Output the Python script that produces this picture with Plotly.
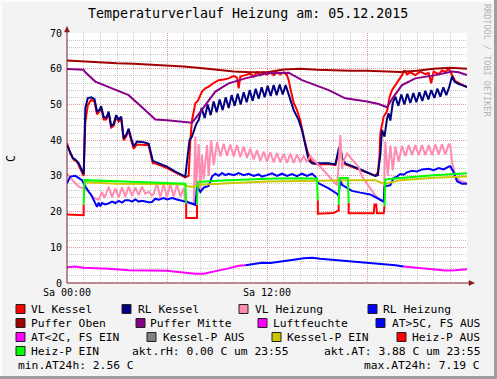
import plotly.graph_objects as go

# ------------------------------------------------------------------ data
title_text = "Temperaturverlauf Heizung am: 05.12.2015"
y_label = "C"
x_tick_vals = [0, 6, 12, 18]
x_tick_text = ["Sa 00:00", "", "Sa 12:00", ""]
y_tick_vals = [0, 10, 20, 30, 40, 50, 60, 70]

# hours since 00:00 and temperatures in C
vl_kessel_t = [0.0, 0.2, 0.4, 0.6, 0.8, 1.0, 1.1, 1.25, 1.45, 1.65, 1.8, 1.95, 2.05, 2.2, 2.35, 2.5, 2.65, 2.8,
               2.95, 3.1, 3.25, 3.4, 3.55, 3.7, 3.85, 4.0, 4.2, 4.6, 4.9, 5.05, 5.15, 5.3, 6.0, 6.5, 7.1, 7.3,
               7.4, 7.5, 7.6, 7.7, 7.85, 8.0, 8.1, 8.3, 8.5, 8.8, 9.1, 9.4, 9.7, 10.0, 10.2, 10.3, 10.4, 10.7,
               11.0, 11.2, 11.4, 11.6, 11.8, 12.0, 12.2, 12.4, 12.6, 12.8, 13.0, 13.2, 13.3, 13.45, 13.6, 13.8,
               14.0, 14.2, 14.4, 14.6, 14.8, 15.2, 15.7, 16.1, 16.3, 16.4, 16.5, 16.7, 17.1, 17.6, 18.0, 18.5,
               18.65, 18.75, 18.8, 19.0, 19.2, 19.35, 19.5, 19.7, 19.9, 20.1, 20.25, 20.4, 20.6, 20.9, 21.2,
               21.5, 21.7, 21.85, 22.0, 22.3, 22.5, 22.7, 22.9, 23.1, 23.3, 23.5, 23.7, 24.0]
vl_kessel = [39.2, 36.2, 34.5, 34.0, 32.0, 30.0, 45.0, 49.8, 51.3, 50.8, 47.2, 48.0, 49.0, 45.8, 45.8, 47.4, 43.5,
             44.0, 46.4, 45.2, 46.0, 40.0, 41.0, 42.6, 40.0, 37.6, 38.8, 38.8, 38.6, 35.5, 33.5, 33.5, 32.2, 31.0,
             29.6, 30.0, 40.0, 45.5, 47.5, 50.3, 51.0, 52.6, 53.6, 54.5, 55.0, 56.0, 56.8, 57.0, 57.3, 58.0, 57.5,
             54.5, 57.8, 58.2, 58.6, 57.8, 59.0, 58.2, 59.0, 58.3, 59.0, 58.2, 59.0, 58.4, 59.0, 58.2, 56.8, 53.5,
             50.5, 48.4, 45.5, 41.0, 37.2, 34.6, 33.4, 33.2, 33.3, 33.0, 37.0, 38.2, 34.8, 33.2, 32.5, 31.6, 31.0,
             30.0, 31.0, 35.4, 41.9, 46.6, 48.0, 52.0, 54.0, 55.4, 56.5, 58.2, 59.6, 58.4, 59.0, 58.2, 59.2, 58.5,
             58.8, 55.9, 59.2, 58.5, 59.5, 59.1, 60.0, 58.4, 56.5, 56.0, 55.5, 54.8]

rl_kessel_t = [0.0, 0.2, 0.35, 0.5, 0.7, 0.9, 1.0, 1.1, 1.25, 1.45, 1.65, 1.8, 1.95, 2.05, 2.2, 2.35, 2.5, 2.65,
               2.8, 2.95, 3.1, 3.25, 3.4, 3.55, 3.7, 3.85, 4.0, 4.2, 4.6, 4.9, 5.05, 5.15, 5.3, 6.0, 6.5, 7.1,
               7.25, 7.35, 7.5, 7.6, 7.75,
               7.90, 8.08, 8.26, 8.44, 8.62, 8.80, 8.98, 9.16, 9.34, 9.52, 9.70, 9.88, 10.06, 10.24, 10.42,
               10.60, 10.78, 10.96, 11.14, 11.32, 11.50, 11.68, 11.86, 12.04, 12.22, 12.40, 12.58, 12.76,
               12.94, 13.12, 13.30,
               13.45, 13.6, 13.75, 13.9, 14.1, 14.3, 14.5, 14.7, 15.2, 15.7, 16.1, 16.3, 16.4, 16.5, 16.7,
               17.1, 17.6, 18.0, 18.5, 18.65, 18.8, 18.9, 19.05, 19.2, 19.3, 19.4, 19.55,
               19.70, 19.88, 20.06, 20.24, 20.42, 20.60, 20.78, 20.96, 21.14, 21.32, 21.50, 21.68, 21.86,
               22.04, 22.22, 22.40, 22.58, 22.76, 22.94, 23.1, 23.25, 23.45, 23.7, 24.0]
rl_kessel = [38.6, 36.5, 35.0, 34.6, 33.5, 31.5, 30.5, 49.0, 51.8, 52.0, 51.5, 48.0, 48.5, 49.5, 46.5, 46.2,
             48.0, 44.0, 44.5, 47.0, 45.8, 46.6, 40.5, 41.5, 43.2, 40.5, 38.2, 39.6, 39.4, 39.0, 36.0, 34.2,
             33.9, 32.6, 31.2, 29.8, 36.0, 40.0, 41.0, 42.4, 44.5,
             45.6, 49.0, 46.2, 50.0, 47.0, 50.8, 47.8, 51.4, 48.4, 52.0, 49.0, 52.6, 49.6, 53.0, 50.0, 53.4,
             50.6, 54.0, 51.0, 54.4, 51.6, 54.8, 52.0, 55.2, 52.4, 55.4, 52.6, 55.6, 52.8, 55.4, 52.8,
             50.5, 48.4, 47.0, 45.6, 42.8, 38.6, 34.4, 33.5, 33.4, 33.5, 33.2, 37.5, 38.5, 35.0, 33.5,
             32.8, 31.8, 31.0, 30.0, 30.2, 36.0, 42.8, 41.0, 46.0, 47.5, 45.5, 50.5,
             52.2, 49.6, 52.8, 50.0, 53.0, 50.4, 53.2, 50.6, 53.4, 51.0, 53.8, 51.4, 54.0, 51.8, 54.4, 52.2,
             54.8, 52.6, 55.0, 57.8, 56.4, 55.8, 55.4, 54.9]

vl_heizung_t = [0.0, 0.2, 0.4, 0.7, 1.1, 1.4, 1.6, 1.9, 2.1, 2.25, 2.5, 2.7, 2.9, 3.1, 3.3, 3.5, 3.7, 3.9, 4.1,
                4.3, 4.5, 4.7, 4.9, 5.1, 5.2, 5.4, 5.6, 5.8, 6.0, 6.2, 6.4, 6.6, 6.8, 7.0, 7.1, 7.3, 7.6, 7.7,
                7.75, 7.9, 8.0, 8.1, 8.2, 8.4, 8.5, 8.65, 8.8,
                9.0, 9.2, 9.4, 9.6, 9.8, 10.0, 10.2, 10.4, 10.6, 10.8, 11.0, 11.2, 11.4, 11.6, 11.8, 12.0,
                12.2, 12.4, 12.6, 12.8, 13.0, 13.2, 13.4, 13.6, 13.8, 14.0, 14.2, 14.4, 14.6, 14.8, 15.0,
                15.1, 15.4, 15.7, 16.0, 16.2, 16.3, 16.4, 16.5, 16.6, 16.8, 17.0, 17.2, 17.5, 17.7, 18.0,
                18.3, 18.5, 18.8, 19.0, 19.1, 19.25, 19.4, 19.55,
                19.7, 19.9, 20.1, 20.3, 20.5, 20.7, 20.9, 21.1, 21.3, 21.5, 21.7, 21.9, 22.1, 22.3, 22.5,
                22.7, 22.9, 23.0, 23.1, 23.3, 23.6, 24.0]
vl_heizung = [30.7, 29.5, 28.4, 27.0, 26.3, 25.1, 23.8, 23.3, 25.5, 23.8, 26.9, 24.0, 26.5, 24.0, 26.8, 24.2,
              27.0, 24.4, 26.8, 24.6, 27.0, 25.0, 25.5, 24.5, 25.0, 27.8, 24.0, 27.8, 24.0, 27.8, 24.2, 27.5,
              24.2, 26.5, 23.3, 22.6, 22.0, 41.0, 27.0, 38.9, 25.5, 35.8, 29.0, 38.6, 30.0, 40.0, 33.0,
              39.4, 35.5, 39.0, 35.6, 38.8, 35.4, 38.6, 35.2, 38.2, 35.0, 37.6, 34.6, 37.2, 34.2, 36.8, 34.0,
              36.6, 33.8, 36.4, 33.8, 36.2, 33.6, 36.2, 33.6, 36.0, 33.8, 35.5, 34.0, 35.5, 34.4, 33.5,
              33.0, 31.5, 29.8, 28.4, 27.4, 33.0, 41.4, 32.0, 34.2, 36.3, 35.2, 34.0, 32.5, 29.8, 27.8,
              26.0, 24.5, 23.3, 22.6, 39.6, 30.0, 38.5, 31.5,
              38.2, 34.0, 38.4, 35.5, 38.6, 35.8, 38.6, 35.8, 38.6, 35.8, 38.6, 35.8, 38.8, 36.0, 38.8,
              36.0, 38.8, 38.6, 33.9, 29.8, 28.6, 28.0]

rl_heizung_t = [0.0, 0.2, 0.5, 0.9, 1.1, 1.5, 1.7, 1.8, 1.9, 2.0, 2.1, 2.3, 2.5, 2.7, 2.9, 3.1, 3.3, 3.5, 3.7,
                3.9, 4.1, 4.3, 4.5, 4.9, 5.1, 5.3, 5.5, 5.8, 6.0, 6.3, 6.6, 7.0, 7.1, 7.4, 7.7, 7.8, 8.0, 8.2,
                8.5, 8.7, 8.9, 9.1, 9.3, 9.5, 9.7, 10.0, 10.3, 10.6, 10.9, 11.2, 11.5, 11.7, 12.0, 12.3, 12.6,
                12.9, 13.2, 13.5, 13.8, 14.1, 14.4, 14.7, 14.9, 15.1, 15.7, 16.2, 16.3, 16.4, 16.5, 16.7,
                17.1, 17.6, 18.2, 18.6, 19.0, 19.05, 19.4, 19.6, 19.8, 20.0, 20.2, 20.4, 20.7, 21.0, 21.3,
                21.7, 22.0, 22.3, 22.6, 22.9, 23.0, 23.2, 23.4, 23.7, 24.0]
rl_heizung = [27.9, 29.8, 30.0, 28.8, 27.0, 24.2, 22.3, 21.3, 22.5, 21.5, 22.4, 22.0, 22.3, 22.8, 22.4, 23.0,
              22.5, 23.2, 23.2, 22.8, 23.4, 22.8, 23.0, 22.6, 22.7, 23.6, 23.3, 23.8, 23.4, 23.8, 23.4, 23.0,
              22.8, 22.4, 21.9, 27.0, 25.5, 26.7, 27.2, 29.8, 30.6, 30.0, 30.8, 30.2, 30.6, 30.2, 30.8, 30.2,
              30.6, 30.0, 30.4, 29.8, 30.2, 30.7, 30.0, 30.6, 30.0, 30.5, 29.9, 30.6, 30.0, 30.6, 29.8,
              27.9, 26.5, 25.0, 24.4, 29.0, 27.5, 27.0, 25.8, 25.3, 24.8, 23.8, 22.8, 27.0, 27.4, 29.4,
              29.8, 30.5, 30.3, 31.0, 31.4, 31.2, 31.8, 32.0, 31.6, 32.2, 31.8, 32.6, 32.7, 31.0, 28.5,
              27.8, 27.8]

puffer_oben_t = [0, 1, 2, 3, 4, 5, 6, 7, 8, 9, 10, 11, 12, 13, 14, 15, 16, 17, 18, 19, 20, 21, 22, 23, 24]
puffer_oben = [62.3, 62.0, 61.8, 61.5, 61.4, 61.2, 60.9, 60.6, 60.2, 59.6, 59.2, 59.0, 59.0, 59.8, 60.0,
               59.7, 59.5, 59.4, 59.4, 59.2, 59.1, 59.4, 60.0, 60.3, 60.0]

puffer_mitte_t = [0.0, 1.0, 1.1, 1.7, 2.7, 3.7, 4.7, 5.3, 6.0, 7.0, 7.5, 7.7, 8.3, 8.9, 9.7, 10.7, 12.0, 13.3,
                  14.1, 14.9, 15.7, 16.7, 18.0, 18.7, 19.2, 19.6, 20.1, 20.9, 22.1, 23.1, 23.5, 24.0]
puffer_mitte = [59.9, 59.7, 59.0, 56.4, 54.5, 52.6, 48.4, 45.8, 45.6, 45.2, 44.9, 46.0, 49.8, 53.6, 55.9,
                57.3, 58.7, 58.9, 56.8, 55.4, 54.0, 51.7, 50.8, 50.1, 49.2, 52.2, 55.4, 57.3, 58.2, 59.2,
                59.0, 58.2]

# outdoor temperature (AT)
at_t = [0.0, 0.5, 1.0, 1.7, 2.5, 3.7, 5.0, 6.0, 7.1, 7.7, 8.2, 8.7, 9.2, 9.7, 10.3, 10.7, 11.2, 11.7, 12.2,
        12.7, 13.2, 13.7, 14.2, 14.7, 15.2, 15.7, 16.2, 16.7, 17.3, 18.0, 18.9, 19.3, 19.7, 20.2, 20.7,
        21.2, 21.7, 22.2, 22.7, 23.3, 23.9, 24.0]
at_values = [4.4, 4.6, 4.3, 4.2, 4.0, 3.6, 3.5, 3.4, 2.9, 2.6, 2.6, 3.0, 3.6, 4.1, 4.8, 5.0, 5.4, 5.7, 5.6,
             6.0, 6.4, 6.6, 6.9, 7.1, 6.8, 6.6, 6.4, 6.2, 6.0, 5.8, 5.5, 5.3, 5.0, 4.6, 4.4, 4.0, 3.8, 3.6,
             3.5, 3.6, 3.8, 3.88]
at_threshold = 5.0

# pump state lines
heizp_ein_t = [1.0, 1.05, 3.0, 6.0, 7.1, 7.15, None, 7.8, 7.85, 9.0, 10.0, 12.0, 14.0, 15.0, 15.05, None,
               16.3, 16.35, 16.85, 16.9, None, 19.05, 19.1, 20.0, 22.0, 24.0]
heizp_ein = [22.0, 28.8, 28.5, 28.0, 27.8, 22.3, None, 22.0, 28.3, 28.6, 28.8, 29.2, 29.3, 29.2, 23.2, None,
             22.0, 29.4, 29.4, 22.5, None, 21.5, 29.0, 29.4, 30.2, 30.7]
heizp_aus_t = [0.0, 0.5, 1.0, 1.0, None, 7.15, 7.15, 7.8, 7.8, None, 15.05, 15.05, 16.0, 16.3, 16.3, None,
               16.9, 16.9, 18.0, 18.4, 18.45, 18.55, 18.6, 19.0, 19.05]
heizp_aus = [19.2, 19.0, 19.0, 22.0, None, 22.3, 18.2, 18.2, 22.0, None, 23.2, 19.4, 19.6, 20.3, 22.0, None,
             22.5, 19.5, 19.5, 19.5, 22.0, 22.0, 19.5, 19.5, 21.5]
kesselp_ein_t = [1.1, 3.0, 6.0, 7.0, 7.3, 7.6, 8.0, 9.0, 10.0, 12.0, 14.0, 15.0, 17.0, 18.5, 19.0, 19.3, 20.0,
                 22.0, 24.0]
kesselp_ein = [28.2, 27.8, 27.7, 27.6, 27.0, 26.9, 27.5, 27.8, 28.0, 28.4, 28.6, 28.6, 28.8, 28.8, 27.8, 28.0,
               28.8, 29.5, 29.8]

legend_rows = [
    [("VL Kessel", "#ff0000", 16, 31), ("RL Kessel", "#000080", 122, 138),
     ("VL Heizung", "#ff8cb0", 239, 255), ("RL Heizung", "#0000ff", 368, 383)],
    [("Puffer Oben", "#a00000", 16, 31), ("Puffer Mitte", "#880088", 136, 150),
     ("Luftfeuchte", "#ff00ff", 258, 273), ("AT>5C, FS AUS", "#0000ff", 376, 392)],
    [("AT<2C, FS EIN", "#ff00ff", 16, 31), ("Kessel-P AUS", "#808080", 147, 163),
     ("Kessel-P EIN", "#c8c800", 272, 287), ("Heiz-P AUS", "#ff0000", 397, 412)],
    [("Heiz-P EIN", "#00ff00", 16, 31)],
]
info_left_row4 = "akt.rH: 0.00 C um 23:55"
info_right_row4 = "akt.AT: 3.88 C um 23:55"
info_left_row5 = "min.AT24h: 2.56 C"
info_right_row5 = "max.AT24h: 7.19 C"
watermark = "RRDTOOL / TOBI OETIKER"

# ------------------------------------------------------------------ layout helpers
W, H = 497, 379
PL, PR, PT, PB = 67, 467, 33, 283
MONO = "DejaVu Sans Mono"


def px(x):
    return (x - PL) / (PR - PL)


def py(y):
    return (PB - y) / (PB - PT)


fig = go.Figure()


def add_line(t, v, color, width=2):
    fig.add_trace(go.Scatter(x=t, y=v, mode="lines", line=dict(color=color, width=width),
                             hoverinfo="skip", showlegend=False, connectgaps=False))


add_line(vl_kessel_t, vl_kessel, "#ff0000")
add_line(rl_kessel_t, rl_kessel, "#000080")
add_line(vl_heizung_t, vl_heizung, "#ff8cb0")
add_line(rl_heizung_t, rl_heizung, "#0000ff")
add_line(puffer_oben_t, puffer_oben, "#a00000")
add_line(puffer_mitte_t, puffer_mitte, "#880088")

# AT coloured by threshold
at_low_x, at_low_y, at_high_x, at_high_y = [], [], [], []
for i, (t, v) in enumerate(zip(at_t, at_values)):
    hi = v >= at_threshold
    prev_hi = at_values[i - 1] >= at_threshold if i > 0 else hi
    if i > 0 and hi != prev_hi:
        if hi:
            at_low_x += [t, None]; at_low_y += [v, None]
        else:
            at_high_x += [t, None]; at_high_y += [v, None]
    if hi:
        at_high_x.append(t); at_high_y.append(v)
    else:
        at_low_x.append(t); at_low_y.append(v)
add_line(at_low_x, at_low_y, "#ff00ff")
add_line(at_high_x, at_high_y, "#0000ff")

add_line(kesselp_ein_t, kesselp_ein, "#c8c800")
add_line(heizp_aus_t, heizp_aus, "#ff0000")
add_line(heizp_ein_t, heizp_ein, "#00ff00")

shapes = []
annotations = []

# frame shading
shapes.append(dict(type="rect", xref="paper", yref="paper", x0=px(0), x1=px(W), y0=py(2), y1=py(0),
                   line=dict(width=0), fillcolor="#fcfcfc"))
shapes.append(dict(type="rect", xref="paper", yref="paper", x0=px(0), x1=px(2), y0=py(H), y1=py(0),
                   line=dict(width=0), fillcolor="#fcfcfc"))
shapes.append(dict(type="rect", xref="paper", yref="paper", x0=px(0), x1=px(W), y0=py(H), y1=py(H - 3),
                   line=dict(width=0), fillcolor="#9e9e9e"))
shapes.append(dict(type="rect", xref="paper", yref="paper", x0=px(W - 3), x1=px(W), y0=py(H), y1=py(0),
                   line=dict(width=0), fillcolor="#9e9e9e"))

# axis lines and arrows
AX = "#7a1e2a"
shapes.append(dict(type="line", xref="paper", yref="paper", x0=px(PL), x1=px(PL), y0=py(PB), y1=py(28),
                   line=dict(color=AX, width=1)))
shapes.append(dict(type="line", xref="paper", yref="paper", x0=px(PL), x1=px(472), y0=py(PB), y1=py(PB),
                   line=dict(color=AX, width=1)))
shapes.append(dict(type="path", xref="paper", yref="paper",
                   path=f"M {px(64.5)} {py(32)} L {px(69.5)} {py(32)} L {px(67)} {py(26.5)} Z",
                   fillcolor="#8b1a1a", line=dict(color="#8b1a1a", width=0.5)))
shapes.append(dict(type="path", xref="paper", yref="paper",
                   path=f"M {px(469)} {py(280.5)} L {px(469)} {py(285.5)} L {px(474.5)} {py(283)} Z",
                   fillcolor="#8b1a1a", line=dict(color="#8b1a1a", width=0.5)))

# title and labels
annotations.append(dict(text=title_text, x=px(248), y=py(14), xref="paper", yref="paper", showarrow=False,
                        xanchor="center", yanchor="middle", font=dict(family=MONO, size=13.3, color="#000")))
annotations.append(dict(text=y_label, x=px(11), y=py(158), xref="paper", yref="paper", showarrow=False,
                        xanchor="center", yanchor="middle", textangle=-90,
                        font=dict(family=MONO, size=11.5, color="#000")))
annotations.append(dict(text=watermark, x=px(487), y=py(60), xref="paper", yref="paper", showarrow=False,
                        xanchor="center", yanchor="middle", textangle=90, borderpad=0,
                        font=dict(family=MONO, size=8.5, color="#b4b4b4")))

# legend
row_y = [309, 323, 337, 351, 365]
LEG_FONT = dict(family=MONO, size=11.3, color="#000")
for r, items in enumerate(legend_rows):
    ry = row_y[r]
    for (label, color, bx, tx) in items:
        shapes.append(dict(type="rect", xref="paper", yref="paper", x0=px(bx), x1=px(bx + 9),
                           y0=py(ry + 4.5), y1=py(ry - 4.5), fillcolor=color,
                           line=dict(color="#202020", width=1)))
        annotations.append(dict(text=label, x=px(tx), y=py(ry), xref="paper", yref="paper", showarrow=False,
                                xanchor="left", yanchor="middle", borderpad=0, borderwidth=0, font=LEG_FONT))
annotations.append(dict(text=info_left_row4, x=px(131), y=py(row_y[3]), xref="paper", yref="paper",
                        showarrow=False, xanchor="left", yanchor="middle", borderpad=0, font=LEG_FONT))
annotations.append(dict(text=info_right_row4, x=px(481), y=py(row_y[3]), xref="paper", yref="paper",
                        showarrow=False, xanchor="right", yanchor="middle", borderpad=0, font=LEG_FONT))
annotations.append(dict(text=info_left_row5, x=px(16.5), y=py(row_y[4]), xref="paper", yref="paper",
                        showarrow=False, xanchor="left", yanchor="middle", borderpad=0, font=LEG_FONT))
annotations.append(dict(text=info_right_row5, x=px(481), y=py(row_y[4]), xref="paper", yref="paper",
                        showarrow=False, xanchor="right", yanchor="middle", borderpad=0, font=LEG_FONT))

MAJOR = "rgba(225,140,140,0.85)"
MINOR = "rgba(190,190,190,0.85)"

fig.update_layout(
    width=W, height=H, autosize=False,
    margin=dict(l=PL, r=W - PR, t=PT, b=H - PB, pad=0),
    paper_bgcolor="#f3f3f3", plot_bgcolor="#ffffff",
    showlegend=False,
    shapes=shapes, annotations=annotations,
    xaxis=dict(range=[0, 24], tickmode="array", tickvals=x_tick_vals, ticktext=x_tick_text,
               showgrid=True, gridcolor=MAJOR, griddash="1px,1px", gridwidth=1,
               minor=dict(tickmode="linear", tick0=0, dtick=1, showgrid=True, gridcolor=MINOR,
                          griddash="1px,1px", gridwidth=1, ticks=""),
               zeroline=False, showline=False, ticks="", ticklabelstandoff=2,
               tickfont=dict(family=MONO, size=10, color="#000"), fixedrange=True),
    yaxis=dict(range=[0, 70], tickmode="array", tickvals=y_tick_vals,
               showgrid=True, gridcolor=MAJOR, griddash="1px,1px", gridwidth=1,
               minor=dict(tickmode="linear", tick0=0, dtick=2, showgrid=True, gridcolor=MINOR,
                          griddash="1px,1px", gridwidth=1, ticks=""),
               zeroline=False, showline=False, ticks="", ticklabelstandoff=4,
               tickfont=dict(family=MONO, size=10, color="#000"), fixedrange=True),
)

# remove the default 8px page margin so the figure sits at the window origin
fig.write_html("out.html", config={"displayModeBar": False, "staticPlot": True},
               post_script="document.body.style.margin='0';document.body.style.overflow='hidden';")
